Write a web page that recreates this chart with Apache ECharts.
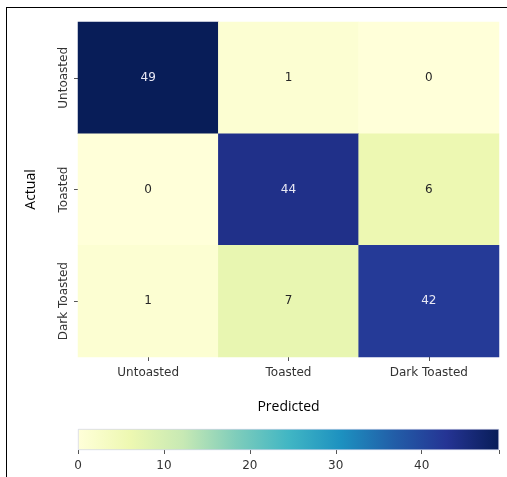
<!DOCTYPE html>
<html>
<head>
<meta charset="utf-8">
<script src="https://cdn.jsdelivr.net/npm/echarts@6/dist/echarts.min.js"></script>
<style>
  html, body { margin: 0; padding: 0; background: #fff; }
  #chart { width: 507px; height: 477px; }
</style>
</head>
<body>
<div id="chart"></div>
<script>
// Confusion matrix: rows are actual classes, columns are predicted classes
const classes = ['Untoasted', 'Toasted', 'Dark Toasted'];
const row0 = [49, 1, 0];
const row1 = [0, 44, 6];
const row2 = [1, 7, 42];
const matrix = [row0, row1, row2];
const colorMax = 49;
const colorbarTicks = [0, 10, 20, 30, 40];

// YlGnBu colormap stops
const ylGnBu = ['#ffffd9', '#edf8b1', '#c7e9b4', '#7fcdbb', '#41b6c4',
                '#1d91c0', '#225ea8', '#253494', '#081d58'];

const cells = [];
matrix.forEach((row, r) => {
  row.forEach((v, c) => cells.push([c, r, v]));
});

const gradientStops = ylGnBu.map((col, i) => ({ offset: i / (ylGnBu.length - 1), color: col }));

const labelFont = 'DejaVu Sans';
const chart = echarts.init(document.getElementById('chart'), null, { renderer: 'canvas' });

chart.setOption({
  animation: false,
  backgroundColor: '#fff',
  grid: [
    { left: 78, right: 8, top: 22, bottom: 120 },
    { left: 78, right: 8, top: 429, height: 21 }
  ],
  xAxis: [
    {
      gridIndex: 0,
      type: 'category',
      data: classes,
      position: 'bottom',
      name: 'Predicted',
      nameLocation: 'middle',
      nameGap: 43,
      nameTextStyle: { fontFamily: 'Open Sans', fontSize: 14, color: '#000' },
      axisLine: { show: false },
      axisTick: { show: true, alignWithLabel: true, length: 4, lineStyle: { color: '#555' } },
      axisLabel: { fontFamily: labelFont, fontSize: 12, color: '#333', margin: 10 },
      splitLine: { show: false }
    },
    {
      gridIndex: 1,
      type: 'value',
      min: 0,
      max: colorMax,
      interval: 10,
      axisLine: { show: false },
      axisTick: { show: true, length: 4, lineStyle: { color: '#555' } },
      axisLabel: {
        fontFamily: labelFont, fontSize: 12, color: '#333', margin: 10,
        formatter: v => (colorbarTicks.indexOf(v) >= 0 ? String(v) : '')
      },
      splitLine: { show: false }
    }
  ],
  yAxis: [
    {
      gridIndex: 0,
      type: 'category',
      data: classes,
      inverse: true,
      name: 'Actual',
      nameLocation: 'middle',
      nameGap: 40,
      nameTextStyle: { fontFamily: 'Open Sans', fontSize: 14, color: '#000' },
      axisLine: { show: false },
      axisTick: { show: true, alignWithLabel: true, length: 4, lineStyle: { color: '#555' } },
      axisLabel: { fontFamily: labelFont, fontSize: 12, color: '#333', rotate: 90, margin: 8 },
      splitLine: { show: false }
    },
    {
      gridIndex: 1,
      type: 'category',
      data: ['scale'],
      axisLine: { show: false },
      axisTick: { show: false },
      axisLabel: { show: false }
    }
  ],
  visualMap: {
    show: false,
    type: 'continuous',
    seriesIndex: 0,
    min: 0,
    max: colorMax,
    inRange: { color: ylGnBu }
  },
  series: [
    {
      type: 'heatmap',
      xAxisIndex: 0,
      yAxisIndex: 0,
      // light text on dark cells, dark text on light cells
      data: cells.map(d => ({
        value: d,
        label: { color: d[2] > colorMax * 0.6 ? '#e8e8f4' : '#262626' }
      })),
      label: {
        show: true,
        fontFamily: labelFont,
        fontSize: 12,
        formatter: p => String(p.value[2])
      },
      itemStyle: { borderWidth: 0 }
    },
    {
      type: 'bar',
      xAxisIndex: 1,
      yAxisIndex: 1,
      data: [colorMax],
      barWidth: '100%',
      silent: true,
      itemStyle: {
        color: new echarts.graphic.LinearGradient(0, 0, 1, 0, gradientStops),
        borderColor: '#c8cbe6',
        borderWidth: 0.6
      }
    }
  ],
  graphic: [
    { type: 'line', shape: { x1: 6.5, y1: 7, x2: 6.5, y2: 477 }, style: { stroke: '#000', lineWidth: 1 } },
    { type: 'line', shape: { x1: 6, y1: 7.5, x2: 507, y2: 7.5 }, style: { stroke: '#000', lineWidth: 1 } }
  ]
});
</script>
</body>
</html>
